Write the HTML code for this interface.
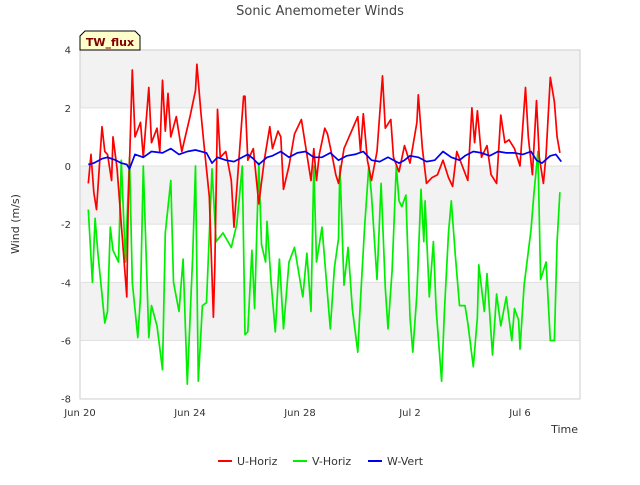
<!DOCTYPE html>
<html><head><meta charset="utf-8"><style>
body{margin:0;background:#fff;font-family:"Liberation Sans","DejaVu Sans",sans-serif}
svg text{font-family:"DejaVu Sans","Liberation Sans",sans-serif}
</style></head><body>
<svg id="chart" width="640" height="480" xmlns="http://www.w3.org/2000/svg">
<rect width="640" height="480" fill="#fff"/>
<g id="bands"></g>
<rect x="80" y="50" width="500" height="349" fill="none" stroke="#ccc"/>
<g id="grid"></g>
<g id="series"></g>
<g id="axes"></g>
<text x="320" y="15" text-anchor="middle" font-size="13" fill="#444">Sonic Anemometer Winds</text>
<text x="19" y="224" text-anchor="middle" font-size="11" fill="#333" transform="rotate(-90 19 224)">Wind (m/s)</text>
<text x="578" y="433" text-anchor="end" font-size="11" fill="#333">Time</text>
<g>
<path d="M80,50 L80,36 L85,31 L135,31 L140,36 L140,50 Z" fill="#ffffcc" stroke="#000"/>
<text x="110" y="46" text-anchor="middle" font-size="11" font-weight="bold" fill="#800000">TW_flux</text>
</g>
<g id="legend"></g>
</svg>
<script>
const uDays=[0.3,0.4,0.5,0.6,0.8,0.9,1.0,1.15,1.2,1.35,1.7,1.75,1.9,2.0,2.2,2.3,2.5,2.6,2.8,2.9,3.0,3.1,3.2,3.3,3.5,3.7,4.0,4.2,4.25,4.4,4.5,4.7,4.85,4.9,5.0,5.1,5.3,5.5,5.6,5.8,5.95,6.0,6.1,6.3,6.5,6.7,6.9,7.0,7.2,7.3,7.4,7.6,7.8,8.05,8.2,8.4,8.5,8.6,8.7,8.9,9.0,9.2,9.3,9.4,9.6,10.1,10.2,10.3,10.45,10.6,10.8,11.0,11.1,11.3,11.4,11.6,11.8,12.0,12.25,12.3,12.45,12.6,12.8,13.0,13.2,13.4,13.55,13.7,13.9,14.1,14.25,14.35,14.45,14.6,14.8,14.95,15.15,15.3,15.45,15.6,15.8,16.0,16.2,16.3,16.45,16.6,16.7,16.85,16.95,17.1,17.25,17.35,17.45];
const uVals=[-0.6,0.4,-0.9,-1.5,1.35,0.5,0.4,-0.5,1.0,-0.1,-4.5,-1.5,3.3,1.0,1.5,0.3,2.7,0.8,1.3,0.5,2.95,1.2,2.5,1.0,1.7,0.5,1.7,2.6,3.5,1.8,0.8,-1.05,-5.2,-3.5,1.95,0.3,0.5,-0.5,-2.1,0.5,2.4,2.4,0.2,0.6,-1.3,0.2,1.35,0.6,1.2,1.0,-0.8,0.0,1.1,1.6,0.7,-0.5,0.6,-0.5,0.4,1.3,1.1,0.2,-0.3,-0.6,0.6,1.7,0.5,1.8,0.2,-0.5,0.5,3.1,1.3,1.6,0.3,-0.2,0.7,0.1,1.5,2.45,0.6,-0.6,-0.4,-0.3,0.2,-0.4,-0.7,0.5,0.0,-0.5,2.0,0.8,1.9,0.3,0.7,-0.3,-0.6,1.75,0.8,0.9,0.6,0.0,2.7,1.0,-0.3,2.25,0.3,-0.6,0.4,3.05,2.2,1.0,0.45];
const vDays=[0.3,0.45,0.55,0.65,0.9,1.0,1.1,1.2,1.4,1.5,1.65,1.8,1.9,2.1,2.2,2.3,2.5,2.6,2.8,3.0,3.1,3.3,3.4,3.6,3.75,3.9,4.1,4.2,4.3,4.45,4.6,4.8,4.95,5.2,5.5,5.7,5.9,6.0,6.1,6.25,6.35,6.5,6.6,6.75,6.8,6.95,7.1,7.25,7.4,7.6,7.8,8.1,8.25,8.4,8.5,8.6,8.8,9.1,9.25,9.4,9.45,9.6,9.75,9.9,10.1,10.2,10.35,10.5,10.6,10.8,10.95,11.1,11.2,11.35,11.5,11.6,11.7,11.85,12.0,12.1,12.25,12.4,12.5,12.55,12.7,12.85,12.95,13.15,13.25,13.4,13.5,13.65,13.8,14.0,14.1,14.3,14.45,14.5,14.7,14.8,15.0,15.15,15.3,15.5,15.7,15.8,15.95,16.0,16.15,16.4,16.5,16.65,16.75,16.95,17.1,17.25,17.35,17.45];
const vVals=[-1.5,-4.0,-1.8,-3.0,-5.4,-5.0,-2.1,-2.9,-3.3,0.2,-3.3,0.3,-4.0,-5.9,-4.5,0.0,-5.9,-4.8,-5.5,-7.0,-2.3,-0.5,-4.0,-5.0,-3.2,-7.5,-3.0,0.0,-7.4,-4.8,-4.7,-0.1,-2.6,-2.3,-2.8,-2.0,0.0,-5.8,-5.7,-2.9,-4.9,0.1,-2.7,-3.3,-1.9,-4.0,-5.7,-3.2,-5.6,-3.3,-2.8,-4.5,-3.0,-5.0,0.0,-3.3,-2.1,-5.6,-3.5,-2.5,0.0,-4.1,-2.8,-4.9,-6.4,-4.6,-2.1,0.0,-1.0,-3.9,-0.6,-4.2,-5.6,-3.6,0.0,-1.2,-1.4,-1.0,-5.2,-6.4,-4.4,-0.8,-2.6,-1.2,-4.5,-2.6,-4.9,-7.4,-5.0,-2.3,-1.2,-3.1,-4.8,-4.8,-5.4,-6.9,-5.2,-3.4,-5.0,-3.7,-6.5,-4.4,-5.5,-4.5,-6.0,-4.9,-5.3,-6.3,-4.1,-2.2,-1.0,0.5,-3.9,-3.3,-6.0,-6.0,-2.6,-0.9];
const wDays=[0.3,0.5,0.8,1.0,1.3,1.5,1.7,1.8,2.0,2.3,2.6,3.0,3.3,3.6,3.9,4.2,4.6,4.8,5.0,5.3,5.6,5.9,6.1,6.3,6.5,6.8,7.0,7.3,7.6,7.9,8.2,8.5,8.8,9.1,9.4,9.7,10.0,10.3,10.6,10.9,11.2,11.6,11.8,12.0,12.3,12.6,12.9,13.2,13.5,13.8,14.0,14.3,14.6,14.9,15.2,15.5,15.8,16.1,16.4,16.6,16.8,17.1,17.3,17.5];
const wVals=[0.05,0.1,0.25,0.3,0.2,0.1,0.05,-0.1,0.4,0.3,0.5,0.45,0.6,0.4,0.5,0.55,0.45,0.1,0.3,0.2,0.15,0.3,0.4,0.25,0.05,0.3,0.35,0.5,0.3,0.45,0.5,0.3,0.3,0.45,0.2,0.35,0.4,0.5,0.2,0.15,0.3,0.1,0.2,0.35,0.3,0.15,0.2,0.5,0.3,0.2,0.35,0.5,0.45,0.35,0.5,0.45,0.45,0.4,0.5,0.2,0.1,0.35,0.4,0.15];
const yTicks=[4,2,0,-2,-4,-6,-8];
const xTickDays=[0,4,8,12,16];
const xTickLabels=["Jun 20","Jun 24","Jun 28","Jul 2","Jul 6"];
const NS="http://www.w3.org/2000/svg";
const X=d=>80+d*27.5;
const Y=v=>166-v*29.08;
function mk(t,a,p){const e=document.createElementNS(NS,t);for(const k in a)e.setAttribute(k,a[k]);p.appendChild(e);return e;}
const bands=document.getElementById('bands'),grid=document.getElementById('grid'),axes=document.getElementById('axes'),series=document.getElementById('series'),legend=document.getElementById('legend');
[[4,2],[0,-2],[-4,-6]].forEach(b=>{const r=mk('rect',{x:80,y:Y(b[0]),width:500,height:Y(b[1])-Y(b[0]),fill:'#f2f2f2'},bands);

});
yTicks.forEach(v=>{const l=mk('line',{x1:80,x2:580,y1:Y(v),y2:Y(v),stroke:'#e0e0e0'},grid);


const t=mk('text',{x:71,y:Y(v)+4,'text-anchor':'end','font-size':10,fill:'#333'},axes);t.textContent=v;

});
xTickDays.forEach((d,i)=>{const t=mk('text',{x:X(d),y:416,'text-anchor':'middle','font-size':10,fill:'#333'},axes);t.textContent=xTickLabels[i];

});
function line(days,vals,col,name){const p=mk('polyline',{points:days.map((d,i)=>X(d).toFixed(1)+','+Y(vals[i]).toFixed(1)).join(' '),fill:'none',stroke:col,'stroke-width':1.7,'stroke-linejoin':'round'},series);

}
line(vDays,vVals,'#00ee00','v-horiz-line');
line(uDays,uVals,'#ff0000','u-horiz-line');
line(wDays,wVals,'#0000ee','w-vert-line');
[['U-Horiz','#ff0000',218],['V-Horiz','#00ee00',293],['W-Vert','#0000ee',368]].forEach(e=>{
const g=mk('g',{},legend);


mk('line',{x1:e[2],x2:e[2]+14,y1:461,y2:461,stroke:e[1],'stroke-width':2},g);
const t=mk('text',{x:e[2]+19,y:465,'font-size':11,fill:'#333'},g);t.textContent=e[0];});
</script>
</body></html>
